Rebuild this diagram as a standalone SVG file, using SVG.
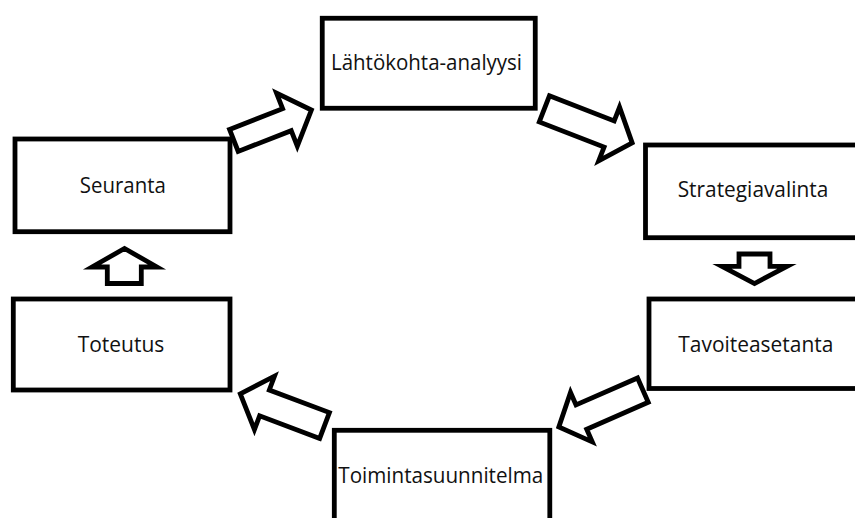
<svg xmlns="http://www.w3.org/2000/svg" width="855" height="518" viewBox="0 0 855 518">
  <style>
    .box { fill: #ffffff; stroke: #000000; stroke-width: 4.8; stroke-linejoin: miter; }
    .lbl { font-family: "Open Sans", "Liberation Sans", sans-serif; font-size: 22px; fill: #111111; text-anchor: middle; }
    .flow { fill: #ffffff; stroke: #000000; stroke-width: 4.8; stroke-linejoin: miter; stroke-miterlimit: 10; }
  </style>
  <rect x="0" y="0" width="855" height="518" fill="#ffffff"/>

  <!-- block arrows between the phases -->
  <g id="connectors">
    <!-- Seuranta -> Lähtökohta-analyysi -->
    <polygon class="flow" transform="translate(231.7,141.3) rotate(-21.4)"
             points="2.3,-11.8 59.3,-11.8 59.3,-28.5 85.6,0 59.3,28.5 59.3,11.8 2.3,11.8"/>
    <!-- Lähtökohta-analyysi -> Strategiavalinta -->
    <polygon class="flow" transform="translate(542.2,108) rotate(21.2)"
             points="2.3,-14 71.8,-14 71.8,-28.8 96.5,0 71.8,28.8 71.8,14 2.3,14"/>
    <!-- Strategiavalinta -> Tavoiteasetanta -->
    <polygon class="flow"
             points="739,254 770,254 770,266.3 787,266.3 754.5,283.5 722,266.3 739,266.3"/>
    <!-- Tavoiteasetanta -> Toimintasuunnitelma -->
    <polygon class="flow" transform="translate(645,389.2) rotate(156.3)"
             points="2.3,-13.3 69.5,-13.3 69.5,-27 94.1,0 69.5,27 69.5,13.3 2.3,13.3"/>
    <!-- Toimintasuunnitelma -> Toteutus -->
    <polygon class="flow" transform="translate(326.7,426.3) rotate(-159.4)"
             points="2.3,-13.8 66.5,-13.8 66.5,-28.5 92.3,0 66.5,28.5 66.5,13.8 2.3,13.8"/>
    <!-- Toteutus -> Seuranta -->
    <polygon class="flow"
             points="107.3,283.5 141.3,283.5 141.3,267 157,267 124.5,248.5 92,267 107.3,267"/>
  </g>

  <g id="node-lahtokohta">
    <rect class="box" x="322.25" y="18.25" width="213" height="90"/>
    <text class="lbl" x="426.5" y="70" textLength="191" lengthAdjust="spacingAndGlyphs">Lähtökohta-analyysi</text>
  </g>

  <g id="node-strategiavalinta">
    <rect class="box" x="645.5" y="145" width="216" height="92.7"/>
    <text class="lbl" x="753" y="197.3" textLength="150.6" lengthAdjust="spacingAndGlyphs">Strategiavalinta</text>
  </g>

  <g id="node-tavoiteasetanta">
    <rect class="box" x="649" y="299" width="215" height="89.5"/>
    <text class="lbl" x="755.8" y="352.3" textLength="155" lengthAdjust="spacingAndGlyphs">Tavoiteasetanta</text>
  </g>

  <g id="node-toimintasuunnitelma">
    <rect class="box" x="334.3" y="430.3" width="215.5" height="92"/>
    <text class="lbl" x="440.8" y="482.7" textLength="205" lengthAdjust="spacingAndGlyphs">Toimintasuunnitelma</text>
  </g>

  <g id="node-toteutus">
    <rect class="box" x="13.3" y="299" width="216.7" height="91"/>
    <text class="lbl" x="121" y="352.3" textLength="86.6" lengthAdjust="spacingAndGlyphs">Toteutus</text>
  </g>

  <g id="node-seuranta">
    <rect class="box" x="15" y="139" width="215" height="92.7"/>
    <text class="lbl" x="122.8" y="193.3" textLength="86" lengthAdjust="spacingAndGlyphs">Seuranta</text>
  </g>
</svg>
